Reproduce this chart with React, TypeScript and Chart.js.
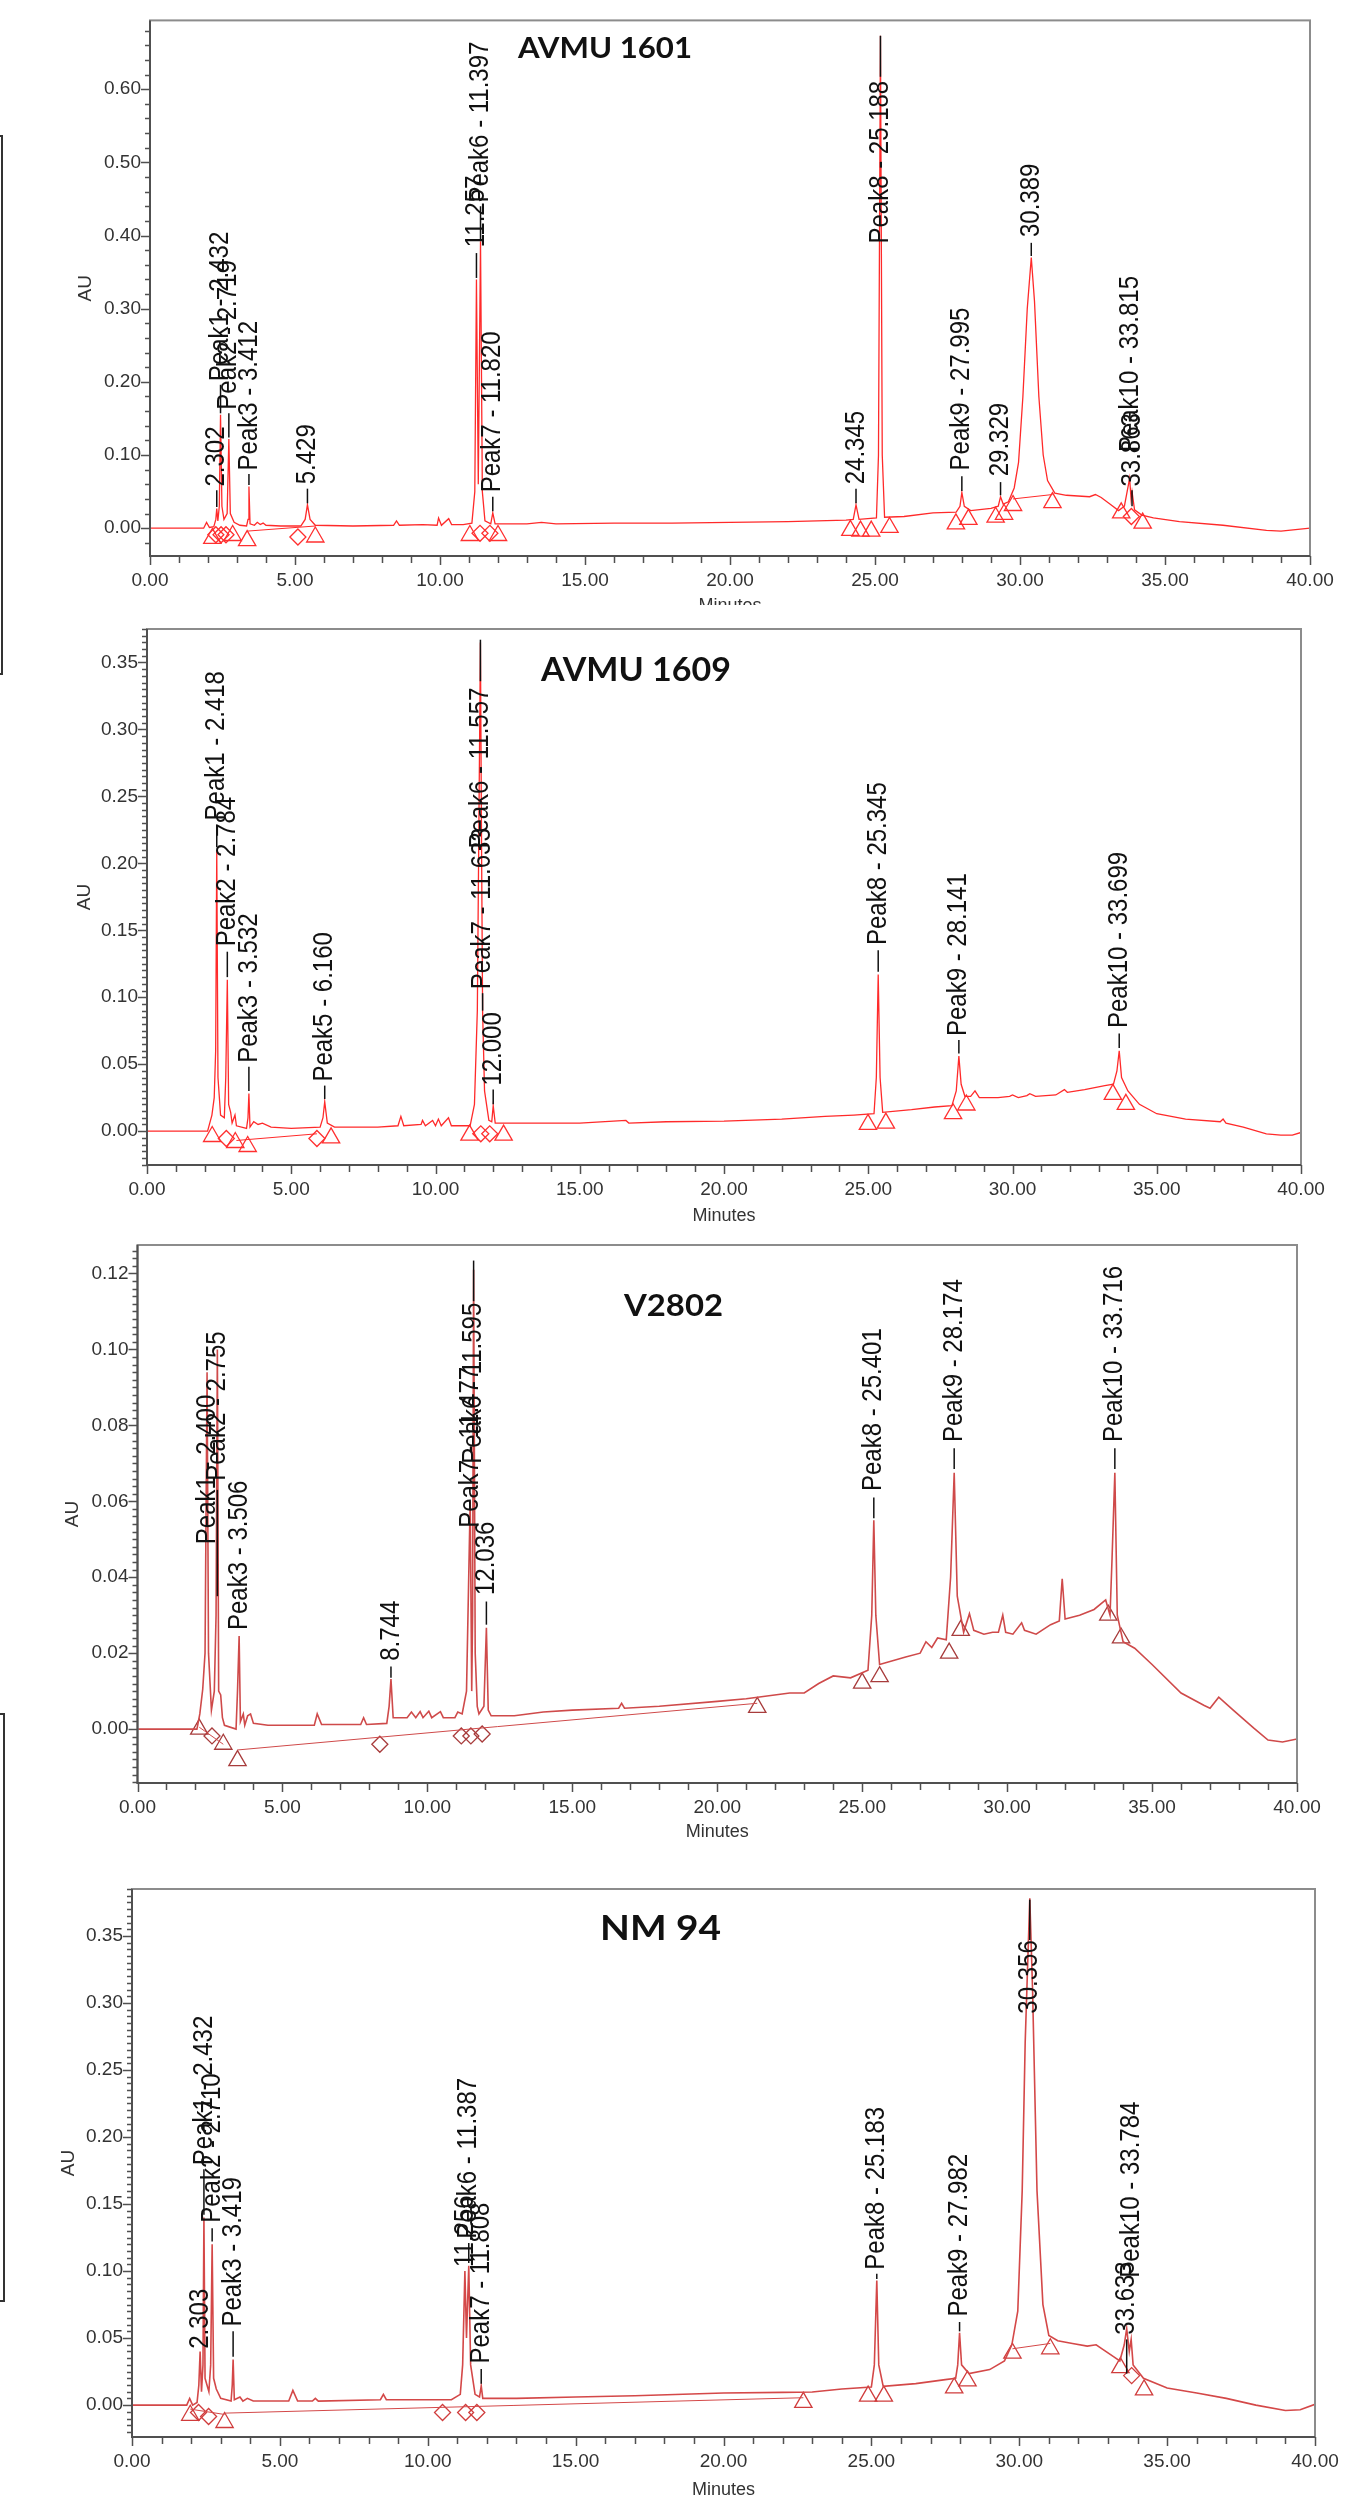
import React, { useEffect, useRef } from "react";
import { Chart, registerables } from "chart.js";

Chart.register(...registerables);

const FONT = '"Liberation Sans", Arial, Helvetica, sans-serif';
const TITLE_FONT = 'Lato, "Open Sans", "DejaVu Sans", sans-serif';

const X_TICKS = [0, 5, 10, 15, 20, 25, 30, 35, 40];
const X_MINOR_STEP = 1;
const X_MAJOR_STEP = 5;

// ================= Panel 1 : AVMU 1601 =================
const P1_TITLE = "AVMU 1601";
const P1_TIME = [
  0, 1.85, 1.95, 2.05, 2.2, 2.27, 2.302, 2.34, 2.39, 2.432,
  2.48, 2.55, 2.66, 2.719, 2.77, 2.9, 3.1, 3.33, 3.38, 3.412,
  3.45, 3.6, 3.7, 3.8, 3.9, 4.0, 4.5, 5.2, 5.35, 5.429,
  5.52, 5.7, 7.0, 8.4, 8.5, 8.6, 9.4, 9.9, 9.95, 10.05,
  10.3, 10.4, 10.8, 11.1, 11.2, 11.257, 11.32, 11.397, 11.46, 11.55,
  11.75, 11.82, 11.9, 13.0, 13.5, 14.0, 16.0, 18.0, 20.0, 22.0,
  24.0, 24.25, 24.345, 24.45, 25.05, 25.12, 25.188, 25.25, 25.33, 26.0,
  27.0, 27.8, 27.93, 27.995, 28.08, 28.3, 29.0, 29.25, 29.329, 29.42,
  29.6, 29.8, 29.95, 30.1, 30.25, 30.389, 30.5, 30.65, 30.8, 30.95,
  31.2, 31.6, 32.0, 32.4, 32.6, 32.8, 33.1, 33.4, 33.6, 33.78,
  33.83, 33.863, 33.95, 34.2, 34.6, 35.5, 37.0, 38.5, 39.0, 39.5,
  40.0,
];
const P1_AU = [
  0, 0, 0.008, 0.001, 0.002, 0.012, 0.027, 0.01, 0.03, 0.155,
  0.03, 0.012, 0.02, 0.122, 0.02, 0.008, 0.004, 0.003, 0.012, 0.057,
  0.006, 0.004, 0.008, 0.005, 0.007, 0.004, 0.003, 0.003, 0.012, 0.032,
  0.012, 0.004, 0.003, 0.004, 0.01, 0.004, 0.005, 0.004, 0.014, 0.004,
  0.013, 0.005, 0.005, 0.007, 0.05, 0.34, 0.06, 0.392, 0.05, 0.01,
  0.006, 0.021, 0.006, 0.006, 0.008, 0.006, 0.007, 0.007, 0.008, 0.009,
  0.011, 0.012, 0.032, 0.012, 0.014, 0.1, 0.673, 0.1, 0.015, 0.016,
  0.021, 0.022, 0.03, 0.049, 0.03, 0.024, 0.027, 0.03, 0.043, 0.033,
  0.036, 0.055, 0.09, 0.18, 0.3, 0.37, 0.31, 0.18, 0.1, 0.065,
  0.048, 0.045, 0.044, 0.043, 0.046, 0.042, 0.033, 0.024, 0.03, 0.068,
  0.04, 0.05, 0.025, 0.018, 0.014, 0.009, 0.004, -0.003, -0.004, -0.002,
  0,
];
const P1_TRI_TIME = [2.15, 2.85, 3.35, 5.7, 11.03, 12.0, 24.15, 24.5, 24.87, 25.5, 27.79, 28.22, 29.16, 29.45, 29.76, 31.12, 33.49, 34.23];
const P1_TRI_AU = [-0.014, -0.01, -0.017, -0.012, -0.01, -0.01, -0.003, -0.004, -0.004, 0.001, 0.006, 0.012, 0.015, 0.019, 0.031, 0.035, 0.021, 0.007];
const P1_DIA_TIME = [2.27, 2.45, 2.62, 5.1, 11.38, 11.72, 33.84];
const P1_DIA_AU = [-0.009, -0.009, -0.009, -0.012, -0.007, -0.007, 0.016];
const P1_BASE_FROM_TIME = [3.35, 29.76];
const P1_BASE_FROM_AU = [-0.004, 0.04];
const P1_BASE_TO_TIME = [5.7, 31.12];
const P1_BASE_TO_AU = [0.003, 0.046];
const P1_LABEL_TEXT = ["2.302", "Peak1 - 2.432", "Peak2 - 2.719", "Peak3 - 3.412", "5.429", "11.257", "Peak6 - 11.397", "Peak7 - 11.820", "24.345", "Peak8 - 25.188", "Peak9 - 27.995", "29.329", "30.389", "33.863", "Peak10 - 33.815"];
const P1_LABEL_TIME = [2.302, 2.432, 2.719, 3.412, 5.429, 11.257, 11.397, 11.82, 24.345, 25.188, 27.995, 29.329, 30.389, 33.863, 33.815];
const P1_LABEL_AU = [0.057, 0.201, 0.162, 0.079, 0.06, 0.384, 0.445, 0.049, 0.06, 0.389, 0.079, 0.071, 0.398, 0.057, 0.104];
const P1_LEAD_LO = [0.029, 0.157, 0.124, 0.059, 0.034, 0.342, 0.394, 0.023, 0.034, 0.617, 0.051, 0.045, 0.372, 0.03, NaN];
const P1_LEAD_HI = [0.052, 0.196, 0.157, 0.074, 0.054, 0.376, 0.44, 0.043, 0.054, 0.673, 0.071, 0.063, 0.39, 0.052, NaN];
const P1_Y_TICKS = [0, 0.1, 0.2, 0.3, 0.4, 0.5, 0.6];

// ================= Panel 2 : AVMU 1609 =================
const P2_TITLE = "AVMU 1609";
const P2_TIME = [
  0, 2.1, 2.25, 2.33, 2.38, 2.418, 2.46, 2.55, 2.68, 2.73,
  2.784, 2.83, 2.9, 2.95, 3.05, 3.1, 3.45, 3.5, 3.532, 3.57,
  3.7, 3.85, 4.0, 4.3, 5.0, 6.0, 6.1, 6.16, 6.25, 6.5,
  8.0, 8.7, 8.8, 8.9, 9.5, 9.55, 9.65, 9.9, 10.0, 10.1,
  10.2, 10.45, 10.55, 11.2, 11.35, 11.45, 11.557, 11.6, 11.633, 11.7,
  11.85, 11.95, 12.0, 12.07, 13.0, 15.0, 16.6, 16.7, 18.0, 20.0,
  22.0, 23.5, 24.5, 25.2, 25.28, 25.345, 25.41, 25.5, 26.5, 27.3,
  27.9, 28.05, 28.141, 28.22, 28.35, 28.55, 28.7, 28.85, 29.5, 29.9,
  30.0, 30.2, 30.5, 30.6, 30.8, 31.5, 31.8, 31.9, 32.5, 33.2,
  33.5, 33.62, 33.699, 33.78, 34.0, 34.4, 35.0, 36.0, 37.2, 37.3,
  37.4, 38.0, 38.8, 39.3, 39.7, 40.0,
];
const P2_AU = [
  0, 0, 0.012, 0.025, 0.06, 0.21, 0.04, 0.012, 0.01, 0.04,
  0.113, 0.02, 0.014, 0.006, 0.012, 0.004, 0.002, 0.01, 0.028, 0.003,
  0.007, 0.005, 0.006, 0.003, 0.002, 0.003, 0.01, 0.022, 0.006, 0.003,
  0.003, 0.004, 0.011, 0.004, 0.005, 0.008, 0.004, 0.008, 0.004, 0.009,
  0.004, 0.01, 0.004, 0.004, 0.02, 0.09, 0.365, 0.2, 0.089, 0.03,
  0.008, 0.007, 0.019, 0.006, 0.006, 0.006, 0.008, 0.006, 0.007, 0.0075,
  0.009, 0.011, 0.012, 0.013, 0.04, 0.117, 0.04, 0.014, 0.016, 0.018,
  0.019, 0.03, 0.056, 0.035, 0.026, 0.026, 0.03, 0.025, 0.025, 0.026,
  0.027, 0.025, 0.0265, 0.028, 0.026, 0.027, 0.031, 0.029, 0.031, 0.034,
  0.035, 0.045, 0.06, 0.04, 0.03, 0.02, 0.013, 0.009, 0.007, 0.009,
  0.006, 0.003, -0.002, -0.003, -0.003, -0.001,
];
const P2_TRI_TIME = [2.26, 3.06, 3.49, 6.38, 11.18, 12.36, 24.99, 25.61, 27.94, 28.4, 33.48, 33.93];
const P2_TRI_AU = [-0.004, -0.0085, -0.0115, -0.005, -0.003, -0.003, 0.005, 0.006, 0.013, 0.0195, 0.0275, 0.02];
const P2_DIA_TIME = [2.75, 5.89, 11.57, 11.88];
const P2_DIA_AU = [-0.0055, -0.0055, -0.002, -0.002];
const P2_BASE_FROM_TIME = [3.1];
const P2_BASE_FROM_AU = [-0.007];
const P2_BASE_TO_TIME = [5.89];
const P2_BASE_TO_AU = [-0.002];
const P2_LABEL_TEXT = ["Peak1 - 2.418", "Peak2 - 2.784", "Peak3 - 3.532", "Peak5 - 6.160", "Peak6 - 11.557", "Peak7 - 11.633", "12.000", "Peak8 - 25.345", "Peak9 - 28.141", "Peak10 - 33.699"];
const P2_LABEL_TIME = [2.418, 2.784, 3.532, 6.16, 11.557, 11.633, 12.0, 25.345, 28.141, 33.699];
const P2_LABEL_AU = [0.232, 0.138, 0.051, 0.037, 0.211, 0.106, 0.034, 0.139, 0.071, 0.077];
const P2_LEAD_LO = [0.212, 0.115, 0.03, 0.024, 0.336, 0.09, 0.02, 0.119, 0.058, 0.062];
const P2_LEAD_HI = [0.229, 0.134, 0.048, 0.034, 0.367, 0.103, 0.031, 0.135, 0.068, 0.073];
const P2_Y_TICKS = [0, 0.05, 0.1, 0.15, 0.2, 0.25, 0.3, 0.35];

// ================= Panel 3 : V2802 =================
const P3_TITLE = "V2802";
const P3_TIME = [
  0, 2.05, 2.15, 2.25, 2.33, 2.4, 2.45, 2.55, 2.65, 2.71,
  2.755, 2.8, 2.87, 2.93, 3.0, 3.4, 3.45, 3.506, 3.55, 3.65,
  3.7, 3.8, 3.9, 4.0, 4.5, 5.5, 6.1, 6.2, 6.35, 7.7,
  7.8, 7.9, 8.6, 8.68, 8.744, 8.82, 9.3, 9.45, 9.6, 9.75,
  9.85, 10.05, 10.15, 10.45, 10.55, 10.95, 11.05, 11.2, 11.35, 11.477,
  11.53, 11.56, 11.595, 11.65, 11.72, 11.78, 11.95, 12.036, 12.1, 12.2,
  13.0, 14.0, 15.0, 16.6, 16.7, 16.8, 18.0, 20.0, 21.0, 22.5,
  23.0, 23.5, 24.0, 24.6, 25.2, 25.33, 25.401, 25.47, 25.6, 26.5,
  27.0, 27.2, 27.4, 27.6, 27.9, 28.05, 28.174, 28.28, 28.5, 28.7,
  28.85, 29.2, 29.5, 29.7, 29.85, 29.95, 30.2, 30.5, 30.6, 31.0,
  31.5, 31.8, 31.9, 32.0, 32.5, 33.0, 33.4, 33.55, 33.62, 33.716,
  33.8, 34.0, 34.4, 35.0, 36.0, 36.8, 37.0, 37.3, 37.8, 38.5,
  39.0, 39.5, 40.0,
];
const P3_AU = [
  0, 0, 0.004, 0.0105, 0.02, 0.094, 0.02, 0.005, 0.01, 0.03,
  0.1, 0.01, 0.009, 0.003, 0.001, 0.0, 0.01, 0.0245, 0.002, 0.004,
  0.001, 0.0035, 0.004, 0.0015, 0.001, 0.001, 0.001, 0.004, 0.0012, 0.0012,
  0.003, 0.0012, 0.0015, 0.006, 0.0132, 0.003, 0.003, 0.0045, 0.003, 0.0046,
  0.003, 0.0047, 0.003, 0.0046, 0.003, 0.003, 0.0045, 0.004, 0.01, 0.06,
  0.01, 0.03, 0.121, 0.02, 0.006, 0.004, 0.006, 0.0267, 0.005, 0.0035,
  0.0035, 0.0045, 0.005, 0.0055, 0.0068, 0.0055, 0.006, 0.0073, 0.008, 0.0095,
  0.0095, 0.012, 0.014, 0.0135, 0.0155, 0.03, 0.055, 0.03, 0.017, 0.019,
  0.02, 0.023, 0.0215, 0.024, 0.0235, 0.04, 0.0675, 0.035, 0.0255, 0.0304,
  0.026, 0.025, 0.0255, 0.0255, 0.03, 0.0255, 0.025, 0.028, 0.026, 0.025,
  0.0275, 0.0285, 0.0396, 0.029, 0.03, 0.0315, 0.034, 0.03, 0.045, 0.0675,
  0.03, 0.023, 0.0213, 0.017, 0.0095, 0.0062, 0.0055, 0.0084, 0.005, 0.0003,
  -0.0029, -0.0034, -0.0026,
];
const P3_TRI_TIME = [2.13, 2.96, 3.45, 21.38, 25.0, 25.6, 28.0, 28.4, 33.49, 33.93];
const P3_TRI_AU = [0, -0.004, -0.0083, 0.0057, 0.0121, 0.0138, 0.02, 0.026, 0.03, 0.024];
const P3_DIA_TIME = [2.57, 8.36, 11.17, 11.5, 11.89];
const P3_DIA_AU = [-0.0018, -0.004, -0.0018, -0.0018, -0.0013];
const P3_BASE_FROM_TIME = [2.13, 3.45];
const P3_BASE_FROM_AU = [0.0005, -0.0055];
const P3_BASE_TO_TIME = [2.96, 21.38];
const P3_BASE_TO_AU = [-0.004, 0.0068];
const P3_LABEL_TEXT = ["Peak1 - 2.400", "Peak2 - 2.755", "Peak3 - 3.506", "8.744", "Peak7 - 11.477", "Peak6 - 11.595", "12.036", "Peak8 - 25.401", "Peak9 - 28.174", "Peak10 - 33.716"];
const P3_LABEL_TIME = [2.4, 2.755, 3.506, 8.744, 11.477, 11.595, 12.036, 25.401, 28.174, 33.716];
const P3_LABEL_AU = [0.0487, 0.0654, 0.0261, 0.018, 0.053, 0.0699, 0.0353, 0.0627, 0.0756, 0.0756];
const P3_LEAD_LO = [NaN, 0.035, NaN, 0.0135, NaN, 0.1127, 0.0275, 0.0555, 0.0685, 0.0685];
const P3_LEAD_HI = [NaN, 0.063, NaN, 0.0165, NaN, 0.1234, 0.0336, 0.061, 0.074, 0.074];
const P3_Y_TICKS = [0, 0.02, 0.04, 0.06, 0.08, 0.1, 0.12];

// ================= Panel 4 : NM 94 =================
const P4_TITLE = "NM 94";
const P4_TIME = [
  0, 1.85, 1.95, 2.05, 2.2, 2.26, 2.303, 2.35, 2.4, 2.432,
  2.47, 2.6, 2.66, 2.71, 2.76, 2.85, 3.0, 3.35, 3.39, 3.419,
  3.46, 3.65, 3.75, 3.9, 4.1, 4.5, 5.3, 5.44, 5.6, 6.1,
  6.2, 6.3, 8.4, 8.5, 8.6, 10.8, 11.1, 11.18, 11.256, 11.31,
  11.387, 11.45, 11.6, 11.75, 11.808, 11.86, 13.0, 15.0, 17.0, 20.0,
  22.0, 23.0, 24.0, 25.0, 25.1, 25.183, 25.25, 25.4, 26.5, 27.5,
  27.85, 27.92, 27.982, 28.05, 28.3, 29.0, 29.5, 29.75, 29.95, 30.1,
  30.2, 30.356, 30.45, 30.6, 30.8, 31.0, 31.3, 31.8, 32.3, 32.6,
  32.8, 33.2, 33.4, 33.55, 33.633, 33.72, 33.784, 33.85, 34.2, 35.0,
  36.0, 37.0, 38.0, 39.0, 39.5, 40.0,
];
const P4_AU = [
  0, 0, 0.005, 0, 0.002, 0.015, 0.04, 0.01, 0.03, 0.14,
  0.02, 0.01, 0.03, 0.12, 0.02, 0.012, 0.005, 0.003, 0.015, 0.034,
  0.004, 0.006, 0.003, 0.005, 0.003, 0.003, 0.003, 0.011, 0.003, 0.003,
  0.005, 0.003, 0.004, 0.008, 0.004, 0.004, 0.008, 0.03, 0.1, 0.05,
  0.104, 0.03, 0.008, 0.006, 0.0143, 0.005, 0.005, 0.006, 0.007, 0.009,
  0.0095, 0.0098, 0.012, 0.0135, 0.03, 0.093, 0.03, 0.014, 0.016, 0.019,
  0.02, 0.03, 0.054, 0.03, 0.0235, 0.0265, 0.033, 0.045, 0.07, 0.16,
  0.27, 0.378, 0.31, 0.16, 0.075, 0.052, 0.048, 0.046, 0.044, 0.045,
  0.042, 0.036, 0.033, 0.045, 0.057, 0.04, 0.049, 0.03, 0.02, 0.0128,
  0.009, 0.005, 0.0, -0.004, -0.0035, 0.0006,
];
const P4_TRI_TIME = [1.97, 3.13, 22.7, 24.89, 25.42, 27.8, 28.25, 29.77, 31.05, 33.42, 34.22];
const P4_TRI_AU = [-0.0076, -0.013, 0.002, 0.0067, 0.0067, 0.0128, 0.018, 0.0387, 0.042, 0.028, 0.0113];
const P4_DIA_TIME = [2.25, 2.59, 10.5, 11.28, 11.66, 33.8];
const P4_DIA_AU = [-0.0055, -0.0085, -0.0055, -0.0055, -0.0055, 0.022];
const P4_BASE_FROM_TIME = [1.97, 3.13, 29.77];
const P4_BASE_FROM_AU = [-0.003, -0.006, 0.042];
const P4_BASE_TO_TIME = [3.13, 22.7, 31.05];
const P4_BASE_TO_AU = [-0.007, 0.0055, 0.046];
const P4_LABEL_TEXT = ["2.303", "Peak1 - 2.432", "Peak2 - 2.710", "Peak3 - 3.419", "11.256", "Peak6 - 11.387", "Peak7 - 11.808", "Peak8 - 25.183", "Peak9 - 27.982", "30.356", "33.633", "Peak10 - 33.784"];
const P4_LABEL_TIME = [2.303, 2.432, 2.71, 3.419, 11.256, 11.387, 11.808, 25.183, 27.982, 30.356, 33.633, 33.784];
const P4_LABEL_AU = [0.042, 0.179, 0.136, 0.0586, 0.103, 0.124, 0.031, 0.101, 0.066, 0.292, 0.0525, 0.095];
const P4_LEAD_LO = [NaN, 0.142, 0.122, 0.036, NaN, 0.106, 0.016, 0.094, 0.055, 0.347, 0.0235, NaN];
const P4_LEAD_HI = [NaN, 0.176, 0.132, 0.055, NaN, 0.121, 0.027, 0.098, 0.062, 0.377, 0.049, NaN];
const P4_Y_TICKS = [0, 0.05, 0.1, 0.15, 0.2, 0.25, 0.3, 0.35];

// ================= configuration =================
type Panel = {
  title: string;
  time: number[]; au: number[];
  triT: number[]; triA: number[]; diaT: number[]; diaA: number[];
  b0t: number[]; b0a: number[]; b1t: number[]; b1a: number[];
  labText: string[]; labT: number[]; labA: number[]; leadLo: number[]; leadHi: number[];
  yTicks: number[]; yMajor: number; yMinor: number; yMin: number; yMax: number;
  top: number; height: number; clip?: number;
  left: number; right: number; areaTop: number; areaBottom: number;
  auX: number; minutesOff: number;
  titleX: number; titleBase: number; titleSize: number; titleW: number;
  line: string; lineWidth: number; mark: string;
};

const PANELS: Panel[] = [
  {
    title: P1_TITLE, time: P1_TIME, au: P1_AU,
    triT: P1_TRI_TIME, triA: P1_TRI_AU, diaT: P1_DIA_TIME, diaA: P1_DIA_AU,
    b0t: P1_BASE_FROM_TIME, b0a: P1_BASE_FROM_AU, b1t: P1_BASE_TO_TIME, b1a: P1_BASE_TO_AU,
    labText: P1_LABEL_TEXT, labT: P1_LABEL_TIME, labA: P1_LABEL_AU, leadLo: P1_LEAD_LO, leadHi: P1_LEAD_HI,
    yTicks: P1_Y_TICKS, yMajor: 0.1, yMinor: 0.02, yMin: -0.038, yMax: 0.694,
    top: 0, height: 626, clip: 605, left: 150, right: 1310, areaTop: 16, areaBottom: 556,
    auX: 86, minutesOff: 50, titleX: 518, titleBase: 58, titleSize: 28.5, titleW: 174,
    line: "#ff2a2a", lineWidth: 1.3, mark: "#ff3030",
  },
  {
    title: P2_TITLE, time: P2_TIME, au: P2_AU,
    triT: P2_TRI_TIME, triA: P2_TRI_AU, diaT: P2_DIA_TIME, diaA: P2_DIA_AU,
    b0t: P2_BASE_FROM_TIME, b0a: P2_BASE_FROM_AU, b1t: P2_BASE_TO_TIME, b1a: P2_BASE_TO_AU,
    labText: P2_LABEL_TEXT, labT: P2_LABEL_TIME, labA: P2_LABEL_AU, leadLo: P2_LEAD_LO, leadHi: P2_LEAD_HI,
    yTicks: P2_Y_TICKS, yMajor: 0.05, yMinor: 0.005, yMin: -0.0253, yMax: 0.375,
    top: 599, height: 636, left: 147, right: 1301, areaTop: 629, areaBottom: 1165,
    auX: 85, minutesOff: 51, titleX: 541, titleBase: 681, titleSize: 32.5, titleW: 190,
    line: "#ff2a2a", lineWidth: 1.3, mark: "#ff3030",
  },
  {
    title: P3_TITLE, time: P3_TIME, au: P3_AU,
    triT: P3_TRI_TIME, triA: P3_TRI_AU, diaT: P3_DIA_TIME, diaA: P3_DIA_AU,
    b0t: P3_BASE_FROM_TIME, b0a: P3_BASE_FROM_AU, b1t: P3_BASE_TO_TIME, b1a: P3_BASE_TO_AU,
    labText: P3_LABEL_TEXT, labT: P3_LABEL_TIME, labA: P3_LABEL_AU, leadLo: P3_LEAD_LO, leadHi: P3_LEAD_HI,
    yTicks: P3_Y_TICKS, yMajor: 0.02, yMinor: 0.002, yMin: -0.0142, yMax: 0.1275,
    top: 1215, height: 638, left: 137.5, right: 1297, areaTop: 1245, areaBottom: 1783,
    auX: 72.5, minutesOff: 49, titleX: 624, titleBase: 1315.5, titleSize: 31, titleW: 99,
    line: "#cf4a4a", lineWidth: 1.6, mark: "#a83c3c",
  },
  {
    title: P4_TITLE, time: P4_TIME, au: P4_AU,
    triT: P4_TRI_TIME, triA: P4_TRI_AU, diaT: P4_DIA_TIME, diaA: P4_DIA_AU,
    b0t: P4_BASE_FROM_TIME, b0a: P4_BASE_FROM_AU, b1t: P4_BASE_TO_TIME, b1a: P4_BASE_TO_AU,
    labText: P4_LABEL_TEXT, labT: P4_LABEL_TIME, labA: P4_LABEL_AU, leadLo: P4_LEAD_LO, leadHi: P4_LEAD_HI,
    yTicks: P4_Y_TICKS, yMajor: 0.05, yMinor: 0.005, yMin: -0.0238, yMax: 0.385,
    top: 1859, height: 645, left: 132, right: 1315, areaTop: 1889, areaBottom: 2437,
    auX: 69, minutesOff: 53, titleX: 600, titleBase: 1939.5, titleSize: 34, titleW: 121,
    line: "#d44848", lineWidth: 1.6, mark: "#d03c3c",
  },
];

const W = 1365;

function makeDeco(p: Panel) {
  return {
    id: "deco",
    afterDatasetsDraw(chart: any) {
      const { ctx, scales } = chart;
      const x = scales.x, y = scales.y;
      ctx.save();
      // leader lines
      ctx.strokeStyle = "#111";
      ctx.lineWidth = 1.5;
      p.labT.forEach((t, i) => {
        const lo = p.leadLo[i], hi = p.leadHi[i];
        if (isNaN(lo) || isNaN(hi)) return;
        const px = x.getPixelForValue(t);
        ctx.beginPath();
        ctx.moveTo(px, y.getPixelForValue(lo));
        ctx.lineTo(px, y.getPixelForValue(hi));
        ctx.stroke();
      });
      // rotated peak labels
      ctx.fillStyle = "#111";
      ctx.font = `24px ${FONT}`;
      ctx.textAlign = "left";
      ctx.textBaseline = "middle";
      p.labText.forEach((s, i) => {
        const px = x.getPixelForValue(p.labT[i]);
        const py = y.getPixelForValue(p.labA[i]);
        ctx.save();
        ctx.translate(px, py);
        ctx.scale(1.15, 1);
        ctx.rotate(-Math.PI / 2);
        ctx.fillText(s, 0, 0);
        ctx.restore();
      });
      ctx.restore();
    },
    afterDraw(chart: any) {
      const { ctx, chartArea: a, scales } = chart;
      const x = scales.x, y = scales.y;
      ctx.save();
      // frame
      ctx.strokeStyle = "#8c8c8c";
      ctx.lineWidth = 2;
      ctx.strokeRect(a.left, a.top, a.right - a.left, a.bottom - a.top);
      ctx.strokeStyle = "#505050";
      ctx.beginPath();
      ctx.moveTo(a.left, a.top);
      ctx.lineTo(a.left, a.bottom);
      ctx.lineTo(a.right, a.bottom);
      ctx.stroke();
      // tick marks
      ctx.lineWidth = 1.5;
      ctx.strokeStyle = "#505050";
      ctx.beginPath();
      const k0 = Math.ceil(p.yMin / p.yMinor - 1e-9);
      const k1 = Math.floor(p.yMax / p.yMinor + 1e-9);
      for (let k = k0; k <= k1; k++) {
        const v = k * p.yMinor;
        const r = v / p.yMajor;
        const major = Math.abs(r - Math.round(r)) < 1e-6;
        const py = Math.round(y.getPixelForValue(v)) + 0.5;
        ctx.moveTo(a.left - (major ? 9 : 5), py);
        ctx.lineTo(a.left, py);
      }
      for (let t = 0; t <= 40 + 1e-9; t += X_MINOR_STEP) {
        const major = Math.abs(t / X_MAJOR_STEP - Math.round(t / X_MAJOR_STEP)) < 1e-6;
        const px = Math.round(x.getPixelForValue(t)) + 0.5;
        ctx.moveTo(px, a.bottom);
        ctx.lineTo(px, a.bottom + (major ? 9 : 7));
      }
      ctx.stroke();
      // sample title
      ctx.fillStyle = "#111";
      ctx.font = `bold ${p.titleSize}px ${TITLE_FONT}`;
      ctx.textAlign = "left";
      ctx.textBaseline = "alphabetic";
      const w = ctx.measureText(p.title).width || 1;
      ctx.translate(p.titleX, p.titleBase - p.top);
      ctx.scale(p.titleW / w, 1);
      ctx.fillText(p.title, 0, 0);
      ctx.restore();
    },
  };
}

function PanelChart({ p }: { p: Panel }) {
  const ref = useRef<HTMLCanvasElement | null>(null);
  useEffect(() => {
    const canvas = ref.current;
    if (!canvas) return;
    const areaTopRel = p.areaTop - p.top;
    const areaBottomRel = p.areaBottom - p.top;
    const xAxisH = p.height - areaBottomRel;
    const xy = (ts: number[], as: number[]) => ts.map((t, i) => ({ x: t, y: as[i] }));
    const datasets: any[] = [
      {
        label: "trace",
        data: xy(p.time, p.au),
        borderColor: p.line,
        borderWidth: p.lineWidth,
        pointRadius: 0,
        tension: 0,
        fill: false,
      },
    ];
    p.b0t.forEach((t, i) => {
      datasets.push({
        label: "baseline",
        data: [{ x: t, y: p.b0a[i] }, { x: p.b1t[i], y: p.b1a[i] }],
        borderColor: p.line,
        borderWidth: 1,
        pointRadius: 0,
        tension: 0,
        fill: false,
      });
    });
    datasets.push({
      label: "start/end",
      data: xy(p.triT, p.triA),
      showLine: false,
      pointStyle: "triangle",
      pointRadius: 10,
      pointBorderWidth: 1.3,
      pointBorderColor: p.mark,
      pointBackgroundColor: "rgba(255,255,255,0)",
      borderColor: p.mark,
      backgroundColor: "rgba(255,255,255,0)",
    });
    datasets.push({
      label: "drop",
      data: xy(p.diaT, p.diaA),
      showLine: false,
      pointStyle: "rectRot",
      pointRadius: 8,
      pointBorderWidth: 1.3,
      pointBorderColor: p.mark,
      pointBackgroundColor: "rgba(255,255,255,0)",
      borderColor: p.mark,
      backgroundColor: "rgba(255,255,255,0)",
    });

    const chart = new Chart(canvas, {
      type: "line",
      data: { datasets },
      plugins: [makeDeco(p) as any],
      options: {
        animation: false,
        responsive: false,
        maintainAspectRatio: false,
        devicePixelRatio: 1,
        events: [],
        layout: { padding: { left: 0, right: W - p.right, top: areaTopRel, bottom: 0 } },
        plugins: { legend: { display: false }, tooltip: { enabled: false }, title: { display: false } },
        scales: {
          x: {
            type: "linear",
            min: 0,
            max: 40,
            afterBuildTicks: (s: any) => {
              s.ticks = X_TICKS.map((v) => ({ value: v }));
            },
            afterFit: (s: any) => {
              s.height = xAxisH;
            },
            grid: { display: false, drawTicks: false },
            border: { display: false },
            ticks: {
              autoSkip: false,
              maxRotation: 0,
              minRotation: 0,
              padding: 13,
              color: "#333",
              font: { family: FONT, size: 19 },
              callback: (v: any) => Number(v).toFixed(2),
            },
            title: {
              display: true,
              text: "Minutes",
              color: "#333",
              font: { family: FONT, size: 18 },
              padding: { top: 0, bottom: xAxisH - 10.8 - p.minutesOff },
            },
          },
          y: {
            type: "linear",
            min: p.yMin,
            max: p.yMax,
            afterBuildTicks: (s: any) => {
              s.ticks = p.yTicks.map((v) => ({ value: v }));
            },
            afterFit: (s: any) => {
              s.width = p.left;
            },
            grid: { display: false, drawTicks: false },
            border: { display: false },
            ticks: {
              padding: 9,
              color: "#333",
              font: { family: FONT, size: 19 },
              callback: (v: any) => Number(v).toFixed(2),
            },
            title: {
              display: true,
              text: "AU",
              color: "#333",
              font: { family: FONT, size: 19 },
              padding: { top: p.auX - 11.4, bottom: 0 },
            },
          },
        },
      } as any,
    });
    return () => chart.destroy();
  }, [p]);

  return (
    <div
      style={{
        position: "absolute",
        left: 0,
        top: p.top,
        width: W,
        height: p.clip ?? p.height,
        overflow: "hidden",
      }}
    >
      <canvas ref={ref} width={W} height={p.height} style={{ display: "block", width: W, height: p.height }} />
    </div>
  );
}

export default function App() {
  return (
    <div style={{ position: "absolute", left: 0, top: 0, width: W, height: 2504, background: "#fff", overflow: "hidden" }}>
      {PANELS.map((p, i) => (
        <PanelChart key={i} p={p} />
      ))}
      <div style={{ position: "absolute", left: 0, top: 135, width: 1, height: 536, borderTop: "2px solid #333", borderRight: "2px solid #333", borderBottom: "2px solid #333" }} />
      <div style={{ position: "absolute", left: 0, top: 1713, width: 3, height: 585, borderTop: "2px solid #333", borderRight: "2px solid #333", borderBottom: "2px solid #333" }} />
    </div>
  );
}
